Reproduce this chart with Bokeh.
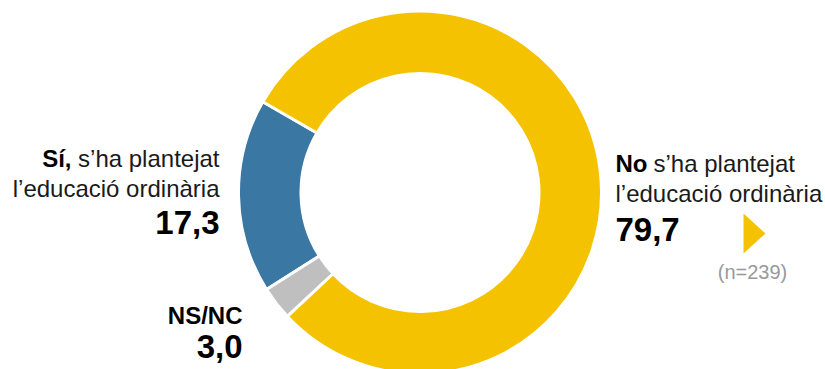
import numpy as np
from bokeh.plotting import figure
from bokeh.models import Range1d, ColumnDataSource
from bokeh.core.properties import value
from bokeh.embed import file_html
from bokeh.resources import INLINE

# ---- data ----
categories = ["Sí", "NS/NC", "No"]
values = [17.3, 3.0, 79.7]
colors = ["#3A77A2", "#BFBFBF", "#F5C200"]
value_labels = ["17,3", "3,0", "79,7"]
sample_note = "(n=239)"

# ---- layout (picture pixels) ----
W, H = 825, 369
def Y(py):
    return H - py

cx, cy = 419.5, Y(192)
r_in, r_out = 119.0, 181.5
start_deg = 150.0

vals = np.array(values)
cum = np.cumsum(vals)
starts = start_deg + 3.6 * (cum - vals)
ends = start_deg + 3.6 * cum

p = figure(width=W, height=H, output_backend="svg", toolbar_location=None,
           x_range=Range1d(0, W), y_range=Range1d(0, H),
           x_axis_location=None, y_axis_location=None, min_border=0,
           outline_line_color=None, background_fill_color="white",
           border_fill_color="white")
p.grid.visible = False

src = ColumnDataSource(dict(start=np.radians(starts), end=np.radians(ends),
                            color=colors, cat=categories))
p.annular_wedge(x=cx, y=cy, inner_radius=r_in, outer_radius=r_out,
                start_angle="start", end_angle="end", direction="anticlock",
                fill_color="color", line_color="white", line_width=3, source=src)

FONT = value("Liberation Sans")
MED = "24px"
BIG = "33px"
dm, db, ds = 8, 10, 7   # baseline corrections

# normal text pieces
p.text(x=[219, 219, 653, 615], y=[Y(166 - dm), Y(196 - dm), Y(171 - dm), Y(201 - dm)],
       text=["s’ha plantejat", "l’educació ordinària", "s’ha plantejat", "l’educació ordinària"],
       text_align=["right", "right", "left", "left"], text_baseline="alphabetic",
       text_font=FONT, text_font_size=MED, text_color="#1a1a1a")
# bold medium
p.text(x=[71, 615, 242], y=[Y(166 - dm), Y(171 - dm), Y(323 - dm)],
       text=["Sí,", "No", categories[1]],
       text_align=["right", "left", "right"], text_baseline="alphabetic",
       text_font=FONT, text_font_size=MED, text_font_style="bold", text_color="#000000")
# bold values
p.text(x=[219, 242, 615], y=[Y(232 - db), Y(356 - db), Y(239 - db)],
       text=value_labels,
       text_align=["right", "right", "left"], text_baseline="alphabetic",
       text_font=FONT, text_font_size=BIG, text_font_style="bold", text_color="#000000")
# sample note
p.text(x=[752], y=[Y(278 - ds)], text=[sample_note], text_align="center",
       text_baseline="alphabetic", text_font=FONT, text_font_size="20px",
       text_color="#999999")
# decorative arrow
p.patch(x=[743, 765, 743], y=[Y(213), Y(233), Y(253)], fill_color=colors[2],
        line_color=None)

open("out.html", "w").write(file_html(p, INLINE))
